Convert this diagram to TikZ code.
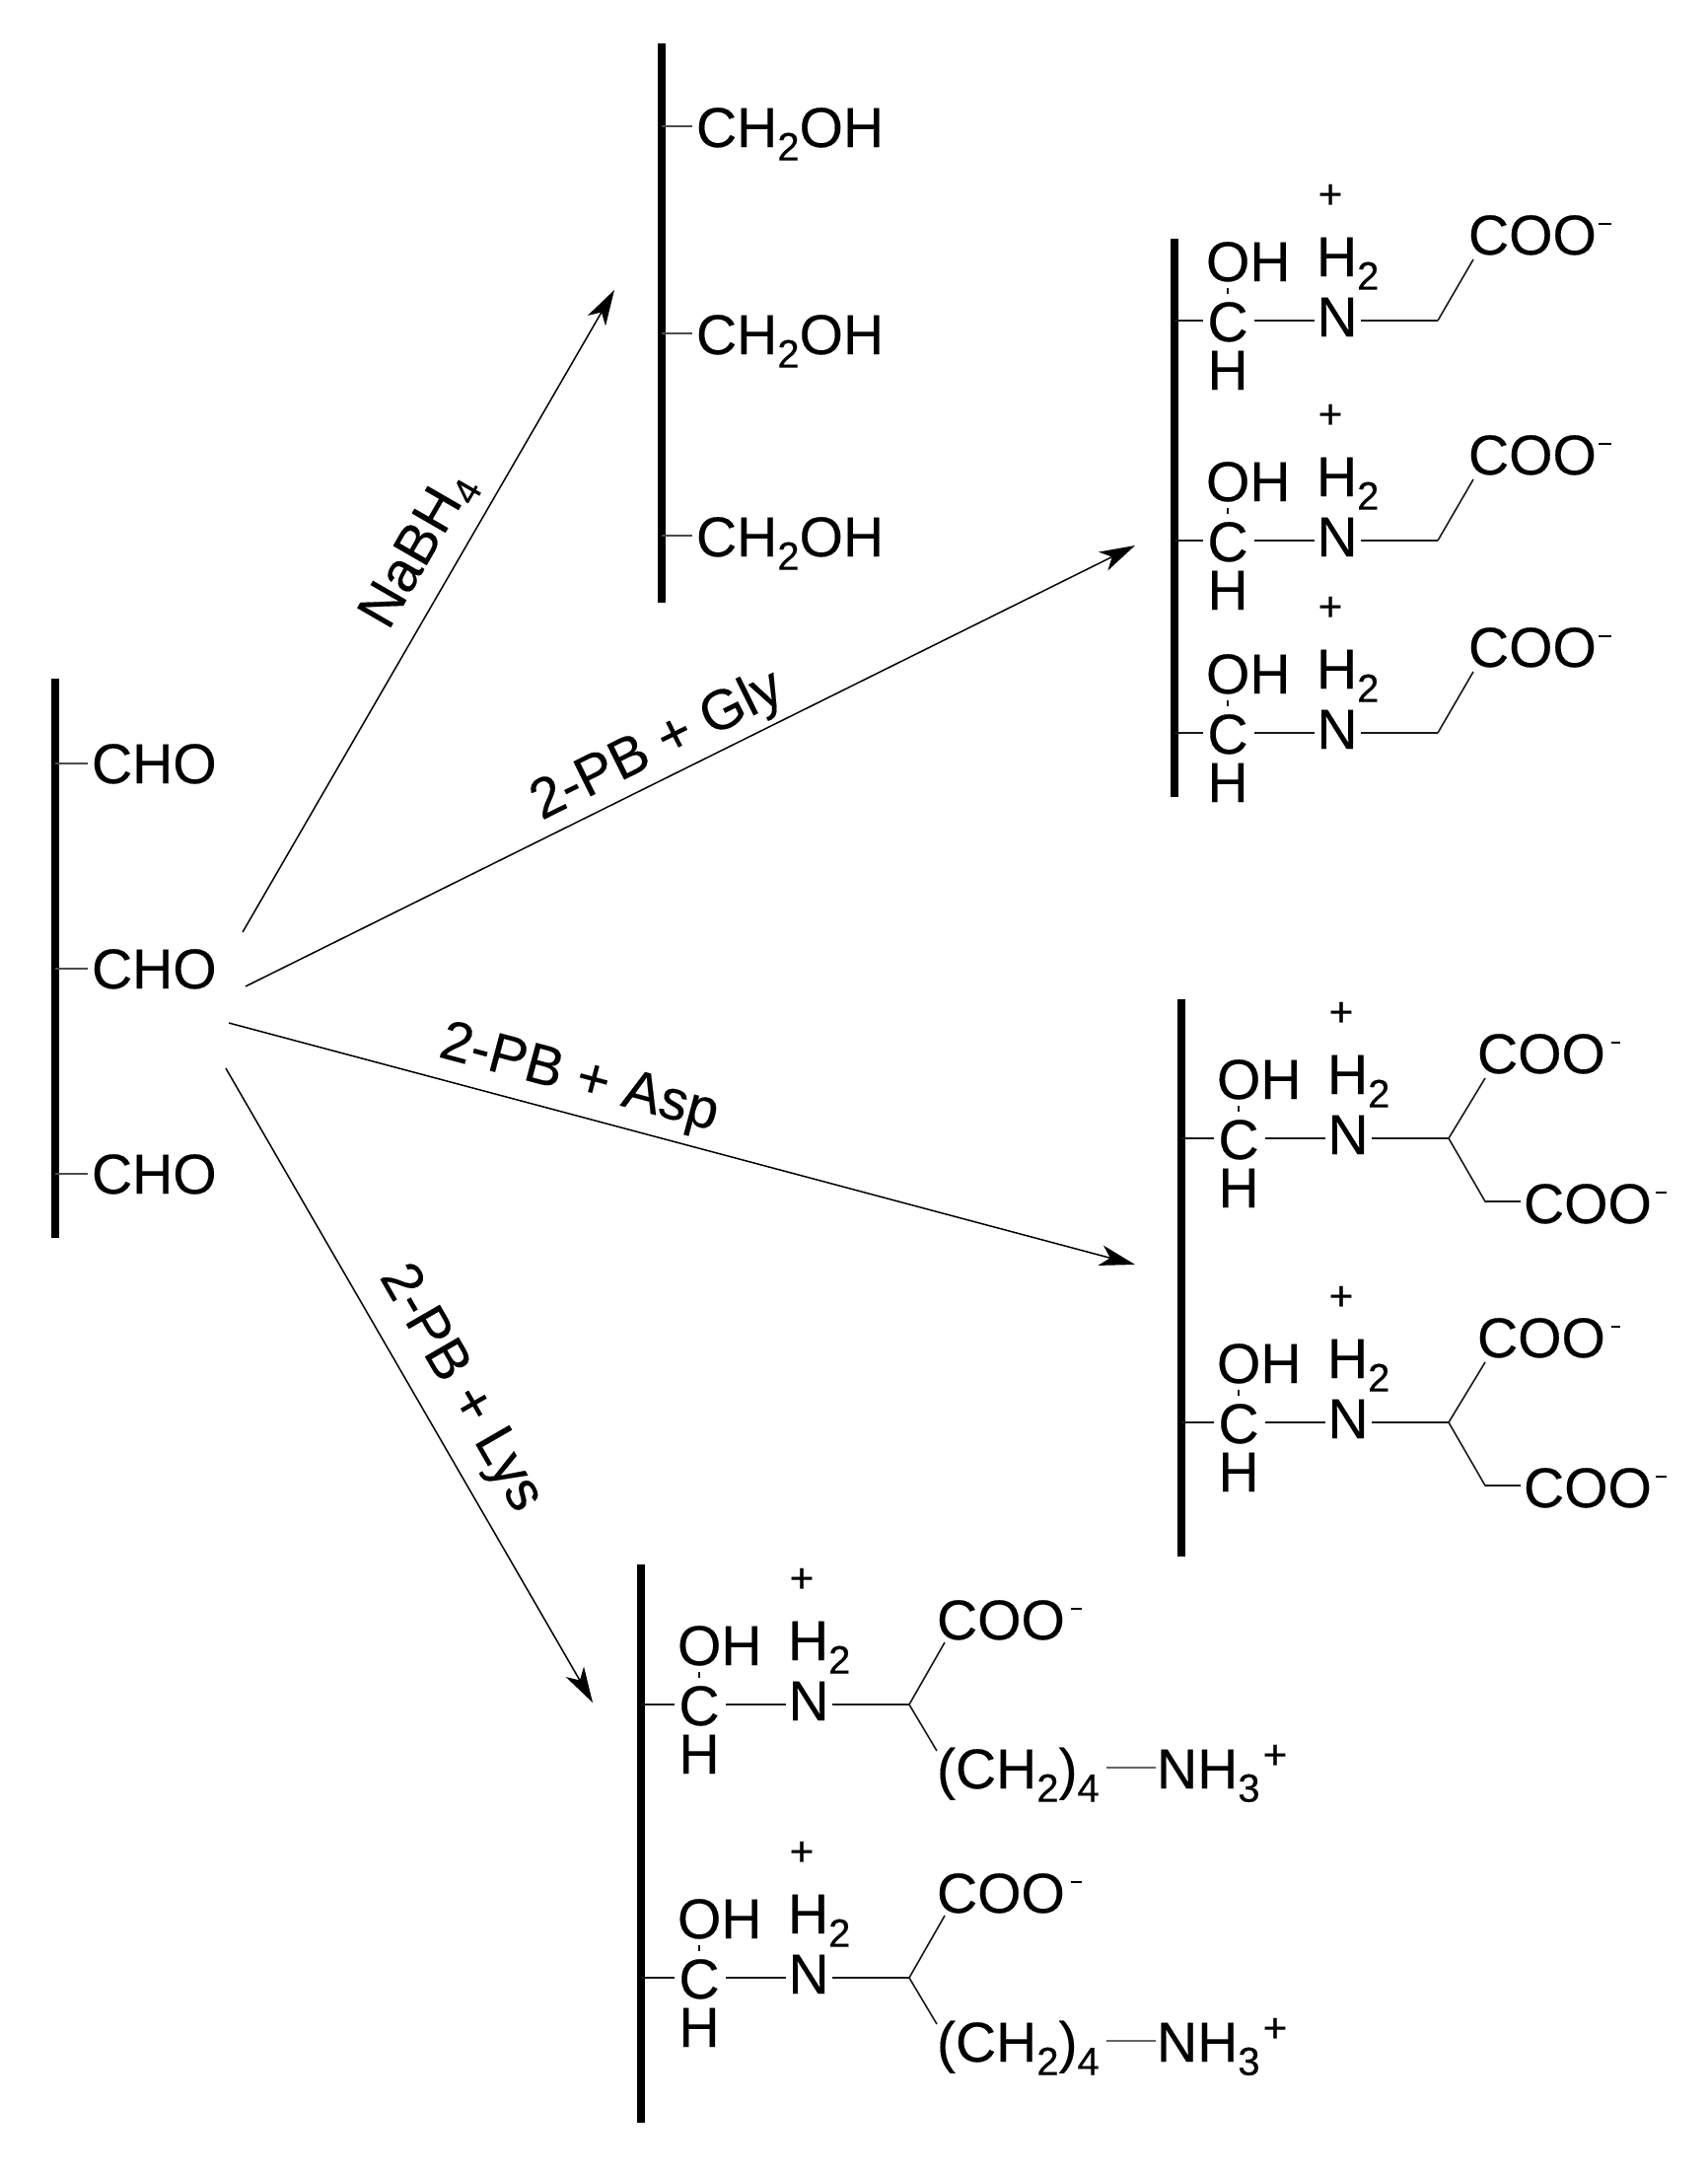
\documentclass[tikz,border=0pt]{standalone}
\usepackage{fontspec}
\setmainfont{Liberation Sans}[FakeBold=0.3]
\usetikzlibrary{arrows.meta}
\newcommand{\sbs}[1]{\raisebox{-6.8pt}{\fontsize{20}{20}\selectfont #1}}
\newcommand{\sbl}[1]{\raisebox{-5.5pt}{\fontsize{19}{19}\selectfont #1}}
\tikzset{
  x=0.5pt,y=-0.5pt,
  bar/.style={line width=3.8pt,black},
  bond/.style={line width=0.8pt,black!90},
  rxn/.style={line width=0.75pt,black,-{Stealth[length=18pt,width=10.5pt,inset=5pt]}},
  chem/.style={font=\fontsize{28.5}{30}\selectfont,inner sep=0pt,outer sep=0pt,text=black,anchor=base west},
  chemc/.style={chem,anchor=base},
  lab/.style={font=\fontsize{28.5}{30}\selectfont,inner sep=0pt,outer sep=0pt,text=black},
  plus/.style={font=\fontsize{21}{22}\selectfont,inner sep=0pt,text=black},
  mns/.style={line width=1.1pt,black},
}
% core: name, bar x, bond y, inner shift
\newcommand{\core}[4]{%
  \coordinate (#1bar) at (#2,#3);
  \begin{scope}[shift={(#2+#4,#3)}]
    \node[chemc] (#1C) at (54,21) {C};
    \node[chem] (#1OH) at (32,-40) {OH};
    \node[chemc] (#1H) at (54,70) {H};
    \node[chemc] (#1N) at (165,16) {N};
    \node[chem] (#1HH) at (144,-45) {H\sbs{2}};
    \node[plus] (#1plus) at (158,-126) {+};
    \coordinate (#1ct) at (54,-33);
    \coordinate (#1cb) at (54,-27);
    \coordinate (#1cl) at (29,0);
    \coordinate (#1cr) at (81,0);
    \coordinate (#1nl) at (142,0);
    \coordinate (#1nr) at (189,0);
    \coordinate (#1j) at (267,0);
    \draw[bond] (#1cr) -- (#1nl);
    \draw[bond] (#1nr) -- (#1j);
    \draw[bond] (#1ct) -- (#1cb);
  \end{scope}
  \draw[bond] (#1bar) -- (#1cl);
}
\newcommand{\chemcoo}[5]{% name, x, baseline, minus start, minus end
  \node[chem] (#1) at (#2,#3) {COO};
  \coordinate (#1ma) at (#2+#4,#3-31);
  \coordinate (#1mb) at (#2+#5,#3-31);
  \draw[mns] (#1ma) -- (#1mb);
}
\newcommand{\gly}[3]{% name, X, Y
  \core{#1}{#2}{#3}{0}
  \chemcoo{#1coo}{#2+298}{#3-67}{132}{145}
  \coordinate (#1end) at (#2+303,#3-62);
  \draw[bond] (#1j) -- (#1end);
}
\newcommand{\asp}[3]{%
  \core{#1}{#2}{#3}{4}
  \chemcoo{#1cooa}{#2+300}{#3-66}{136}{145}
  \chemcoo{#1coob}{#2+347}{#3+86}{134}{145}
  \coordinate (#1enda) at (#2+308,#3-61);
  \coordinate (#1kink) at (#2+308,#3+64);
  \coordinate (#1endb) at (#2+344,#3+64);
  \draw[bond] (#1j) -- (#1enda);
  \draw[bond] (#1j) -- (#1kink) -- (#1endb);
}
\newcommand{\lys}[3]{%
  \core{#1}{#2}{#3}{5}
  \chemcoo{#1coo}{#2+300}{#3-66}{136}{147}
  \node[chem] (#1ch) at (#2+300,#3+85) {(CH\sbs{2})\sbs{4}};
  \node[chem] (#1nh) at (#2+523,#3+85) {NH\sbs{3}};
  \node[plus] (#1np) at (#2+643,#3+53) {+};
  \coordinate (#1enda) at (#2+308,#3-63);
  \coordinate (#1endb) at (#2+300,#3+47);
  \coordinate (#1l) at (#2+472,#3+64);
  \coordinate (#1r) at (#2+522,#3+64);
  \draw[bond] (#1j) -- (#1enda);
  \draw[bond] (#1j) -- (#1endb);
  \draw[bond,black!60] (#1l) -- (#1r);
}
\begin{document}
\begin{tikzpicture}
\useasboundingbox (0,0) rectangle (1732,2207);
% starting polymer
\coordinate (sT) at (56,688); \coordinate (sB) at (56,1255);
\draw[bar] (sT) -- (sB);
\foreach \nm/\yy in {a/774,b/982,c/1190}{
  \coordinate (s\nm t) at (56,\yy);
  \coordinate (s\nm e) at (89,\yy);
  \draw[bond,black!70] (s\nm t) -- (s\nm e);
  \node[chem] (s\nm) at (93,\yy+20) {CHO};
}
% CH2OH polymer
\coordinate (rT) at (671,44); \coordinate (rB) at (671,611);
\draw[bar] (rT) -- (rB);
\foreach \nm/\yy in {a/128,b/338,c/543}{
  \coordinate (r\nm t) at (671,\yy);
  \coordinate (r\nm e) at (702,\yy);
  \draw[bond,black!70] (r\nm t) -- (r\nm e);
  \node[chem] (r\nm) at (706,\yy+21) {CH\sbs{2}OH};
}
% Gly
\coordinate (gT) at (1191,242); \coordinate (gB) at (1191,808);
\draw[bar] (gT) -- (gB);
\gly{ga}{1191}{325}
\gly{gb}{1191}{548}
\gly{gc}{1191}{743}
% Asp
\coordinate (aT) at (1198,1013); \coordinate (aB) at (1198,1578);
\draw[bar] (aT) -- (aB);
\asp{aa}{1198}{1154}
\asp{ab}{1198}{1442}
% Lys
\coordinate (lT) at (650,1586); \coordinate (lB) at (650,2152);
\draw[bar] (lT) -- (lB);
\lys{la}{650}{1728}
\lys{lb}{650}{2005}
% reactions
\coordinate (n0) at (246,945); \coordinate (n1) at (623,294);
\coordinate (g0) at (249,1000); \coordinate (g1) at (1151,553);
\coordinate (d0) at (232,1037); \coordinate (d1) at (1151,1282);
\coordinate (y0) at (229,1083); \coordinate (y1) at (601,1726);
\draw[rxn] (n0) -- (n1);
\draw[rxn] (g0) -- (g1);
\draw[rxn] (d0) -- (d1);
\draw[rxn] (y0) -- (y1);
\node[lab,rotate=60] (ln) at (425,558) {NaBH\sbl{4}};
\node[lab,rotate=26.4] (lg) at (667,757) {2-PB + Gly};
\node[lab,rotate=-15] (ld) at (587,1095) {2-PB + Asp};
\node[lab,rotate=-60] (ly) at (466,1408) {2-PB + Lys};
\end{tikzpicture}
\end{document}
